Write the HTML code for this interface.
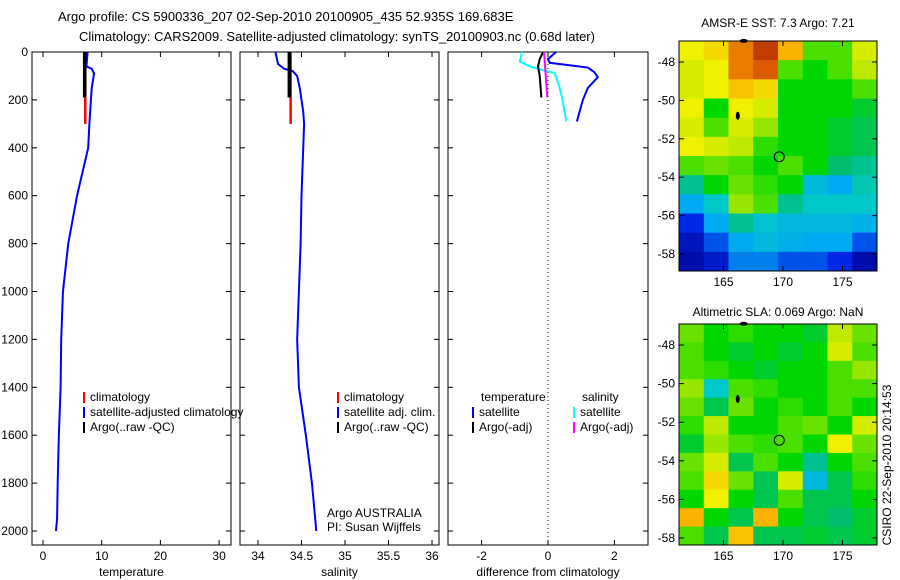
<!DOCTYPE html>
<html><head><meta charset="utf-8"><style>
body{margin:0;background:#fff}
svg{display:block;font-family:"Liberation Sans",sans-serif}
</style></head><body>
<svg id="fig" width="900" height="580" viewBox="0 0 900 580" xmlns="http://www.w3.org/2000/svg">
<defs>
<clipPath id="c1"><rect x="679" y="41" width="198" height="230"/></clipPath>
<clipPath id="c2"><rect x="679" y="324" width="198" height="221"/></clipPath></defs>
<text x="58" y="21" font-size="13">Argo profile: CS 5900336_207 02-Sep-2010 20100905_435 52.935S 169.683E</text>
<text x="337" y="41" font-size="13" text-anchor="middle">Climatology: CARS2009. Satellite-adjusted climatology: synTS_20100903.nc (0.68d later)</text>
<g id="g"></g>
<text x="327" y="517" font-size="12">Argo AUSTRALIA</text>
<text x="327" y="531" font-size="12">PI: Susan Wijffels</text>
<text x="778" y="27" font-size="12" text-anchor="middle">AMSR-E SST: 7.3 Argo: 7.21</text>
<text x="778" y="316" font-size="12" text-anchor="middle">Altimetric SLA: 0.069 Argo: NaN</text>
<text transform="translate(891,465) rotate(-90)" font-size="12" text-anchor="middle">CSIRO 22-Sep-2010 20:14:53</text>
</svg>
<script>
const depthTicks=[0,200,400,600,800,1000,1200,1400,1600,1800,2000];
const tempTicks=[0,10,20,30];
const salTicks=[34,34.5,35,35.5,36];
const diffTicks=[-2,0,2];
const latTicks=[-48,-50,-52,-54,-56,-58];
const lonTicks=[165,170,175];
const tClim=[[0,7.2],[300,7.2]];
const tArgo=[[0,7.1],[190,7.1]];
const tSat=[[0,7.6],[60,7.4],[70,8.3],[90,8.7],[150,8.3],[300,7.9],[400,7.7],[600,5.8],[800,4.3],[1000,3.4],[1200,3.1],[1400,3.0],[1600,2.7],[1800,2.5],[1950,2.4],[2000,2.2]];
const sClim=[[0,34.375],[300,34.375]];
const sArgo=[[0,34.36],[190,34.36]];
const sSat=[[0,34.2],[50,34.23],[70,34.3],[80,34.4],[100,34.45],[150,34.48],[250,34.52],[300,34.53],[400,34.52],[600,34.5],[800,34.49],[1000,34.47],[1200,34.45],[1400,34.47],[1600,34.55],[1800,34.62],[2000,34.67]];
const dTSat=[[0,.24],[30,0],[45,.05],[65,1.2],[85,1.4],[105,1.5],[150,1.2],[200,1.05],[290,.87]];
const dSSat=[[0,-.78],[40,-.85],[60,-.55],[72,-.25],[88,.2],[140,.33],[190,.42],[290,.55]];
const dTArgo=[[0,-.15],[30,-.25],[60,-.3],[100,-.25],[190,-.2]];
const dSArgo=[[0,-.12],[190,-.02]];
const sstGrid=[
[.72,.75,.85,.92,.8,.6,.6,.7],[.7,.72,.85,.88,.6,.55,.6,.68],[.7,.72,.78,.75,.55,.55,.55,.6],
[.72,.55,.72,.7,.55,.55,.55,.52],[.7,.6,.7,.65,.55,.55,.52,.5],[.72,.7,.68,.58,.55,.55,.52,.5],
[.6,.62,.6,.55,.6,.55,.48,.45],[.45,.55,.62,.58,.55,.35,.3,.42],[.3,.4,.65,.6,.45,.4,.4,.4],
[.15,.3,.45,.38,.35,.35,.35,.32],[.08,.2,.3,.35,.32,.3,.3,.2],[.05,.1,.25,.25,.2,.2,.15,.05]];
const slaGrid=[
[.62,.55,.58,.55,.55,.52,.68,.62],[.6,.55,.52,.55,.52,.55,.7,.6],[.6,.58,.55,.52,.55,.55,.6,.65],
[.65,.4,.6,.58,.55,.55,.6,.6],[.62,.5,.62,.55,.58,.55,.6,.55],[.58,.68,.55,.55,.6,.62,.55,.7],
[.52,.65,.6,.58,.6,.55,.72,.62],[.62,.7,.5,.6,.55,.45,.55,.6],[.6,.75,.62,.5,.7,.35,.5,.58],
[.55,.72,.55,.5,.6,.5,.5,.55],[.8,.55,.5,.8,.55,.5,.48,.52],[.6,.5,.78,.5,.5,.52,.5,.52]];
const floatPos=[169.683,-52.935];

const NS='http://www.w3.org/2000/svg',G=document.getElementById('g');
function el(t,a,p){const e=document.createElementNS(NS,t);for(const k in a)e.setAttribute(k,a[k]);(p||G).appendChild(e);return e;}
const Y=d=>52+0.2395*d;
const panels=[
 {x0:32,x1:231,f:v=>43+5.87*v,ticks:tempTicks,lab:'temperature',nm:'temperature-panel',yl:true},
 {x0:240,x1:439,f:v=>258+87*(v-34),ticks:salTicks,lab:'salinity',nm:'salinity-panel'},
 {x0:448,x1:648,f:v=>548+33.2*v,ticks:diffTicks,lab:'difference from climatology',nm:'difference-panel'}];
panels.forEach(p=>{
 const r=el('rect',{x:p.x0,y:52,width:p.x1-p.x0,height:493,fill:'none',stroke:'#000','stroke-width':1});
 
 
 depthTicks.forEach(d=>{
  el('line',{x1:p.x0,x2:p.x0+5,y1:Y(d),y2:Y(d),stroke:'#000'});
  el('line',{x1:p.x1,x2:p.x1-5,y1:Y(d),y2:Y(d),stroke:'#000'});
  if(p.yl){const t=el('text',{x:p.x0-4,y:Y(d)+4,'font-size':12,'text-anchor':'end'});t.textContent=d;
   
   }
 });
 p.ticks.forEach(v=>{const x=p.f(v);
  el('line',{x1:x,x2:x,y1:52,y2:57,stroke:'#000'});el('line',{x1:x,x2:x,y1:545,y2:540,stroke:'#000'});
  const t=el('text',{x:x,y:560,'font-size':12,'text-anchor':'middle'});t.textContent=v;
  
  });
 const t=el('text',{x:(p.x0+p.x1)/2,y:576,'font-size':12,'text-anchor':'middle'});t.textContent=p.lab;
 
 
});
el('line',{x1:548,x2:548,y1:52,y2:545,stroke:'#000','stroke-dasharray':'1,3'});
function line(arr,f,col,w,nm){const e=el('polyline',{points:arr.map(q=>f(q[1])+','+Y(q[0])).join(' '),fill:'none',stroke:col,'stroke-width':w});
 
 }
const [P1,P2,P3]=panels;
line(tClim,P1.f,'#f00',2.5,'temp-climatology');line(tSat,P1.f,'#00f',2,'temp-satellite');line(tArgo,P1.f,'#000',3.5,'temp-argo');
line(sClim,P2.f,'#f00',2.5,'sal-climatology');line(sSat,P2.f,'#00f',2,'sal-satellite');line(sArgo,P2.f,'#000',3.5,'sal-argo');
line(dTSat,P3.f,'#00f',2,'diff-temp-satellite');line(dSSat,P3.f,'#0ff',2,'diff-sal-satellite');line(dTArgo,P3.f,'#000',2,'diff-temp-argo');line(dSArgo,P3.f,'#f0f',2,'diff-sal-argo');
function leg(x,y,col,txt){el('rect',{x:x,y:y-9,width:2,height:11,fill:col});if(txt){const t=el('text',{x:x+7,y:y,'font-size':12});t.textContent=txt;
 
 }}
leg(83,401,'#f00','climatology');leg(83,416,'#00f','satellite-adjusted climatology');leg(83,431,'#000','Argo(..raw -QC)');
leg(337,401,'#f00','climatology');leg(337,416,'#00f','satellite adj. clim.');leg(337,431,'#000','Argo(..raw -QC)');
function txt(x,y,s){const t=el('text',{x:x,y:y,'font-size':12});t.textContent=s;
 
 }
txt(481,401,'temperature');txt(582,401,'salinity');
leg(472,416,'#00f','satellite');leg(472,431,'#000','Argo(-adj)');
leg(573,416,'#0ff','satellite');leg(573,431,'#f0f','Argo(-adj)');
function jet(v){const s=[[0,[0,0,140]],[.15,[0,40,230]],[.3,[0,170,240]],[.4,[0,200,200]],[.48,[0,190,110]],[.55,[0,215,0]],[.65,[150,230,0]],[.72,[240,240,0]],[.8,[250,180,0]],[.88,[220,90,0]],[1,[140,0,0]]];
 for(let i=1;i<s.length;i++)if(v<=s[i][0]){const a=s[i-1],b=s[i],t=(v-a[0])/(b[0]-a[0]);return 'rgb('+a[1].map((c,k)=>Math.round(c+(b[1][k]-c)*t)).join(',')+')';}return 'rgb(140,0,0)';}
function map(grid,top,bot,y48,pd,clip,nm){
 const X=lon=>783+11.9*(lon-170),Yl=lat=>y48+pd*(-48-lat);
 const g=el('g',{'clip-path':'url(#'+clip+')'});
 const nr=grid.length,nc=grid[0].length,cw=198/nc,ch=(bot-top)/nr;
 el('rect',{x:679,y:top,width:198,height:bot-top,fill:jet(.55)},g);
 grid.forEach((row,i)=>row.forEach((v,j)=>{const c=el('rect',{x:679+j*cw,y:top+i*ch,width:cw+0.5,height:ch+0.5,fill:jet(v)},g);
  
  }));
 const fr=el('rect',{x:679,y:top,width:198,height:bot-top,fill:'none',stroke:'#000'});
 
 
 latTicks.forEach(l=>{const y=Yl(l);el('line',{x1:679,x2:684,y1:y,y2:y,stroke:'#000'});el('line',{x1:877,x2:872,y1:y,y2:y,stroke:'#000'});
  const t=el('text',{x:675,y:y+4,'font-size':12,'text-anchor':'end'});t.textContent=l;
  
  });
 lonTicks.forEach(l=>{const x=X(l);el('line',{x1:x,x2:x,y1:top,y2:top+5,stroke:'#000'});el('line',{x1:x,x2:x,y1:bot,y2:bot-5,stroke:'#000'});
  const t=el('text',{x:x,y:bot+15,'font-size':12,'text-anchor':'middle'});t.textContent=l;
  
  });
 const c=el('circle',{cx:X(floatPos[0]),cy:Yl(floatPos[1]),r:5,fill:'none',stroke:'#000'});
 
 
 el('ellipse',{cx:X(166.2),cy:Yl(-50.8),rx:2,ry:4,fill:'#000'});
 el('ellipse',{cx:X(166.7),cy:Yl(-46.9),rx:4,ry:2,fill:'#000'});
}
map(sstGrid,41,271,62,19.2,'c1','sst-map');
map(slaGrid,324,545,345,19.3,'c2','sla-map');
</script>
</body></html>
